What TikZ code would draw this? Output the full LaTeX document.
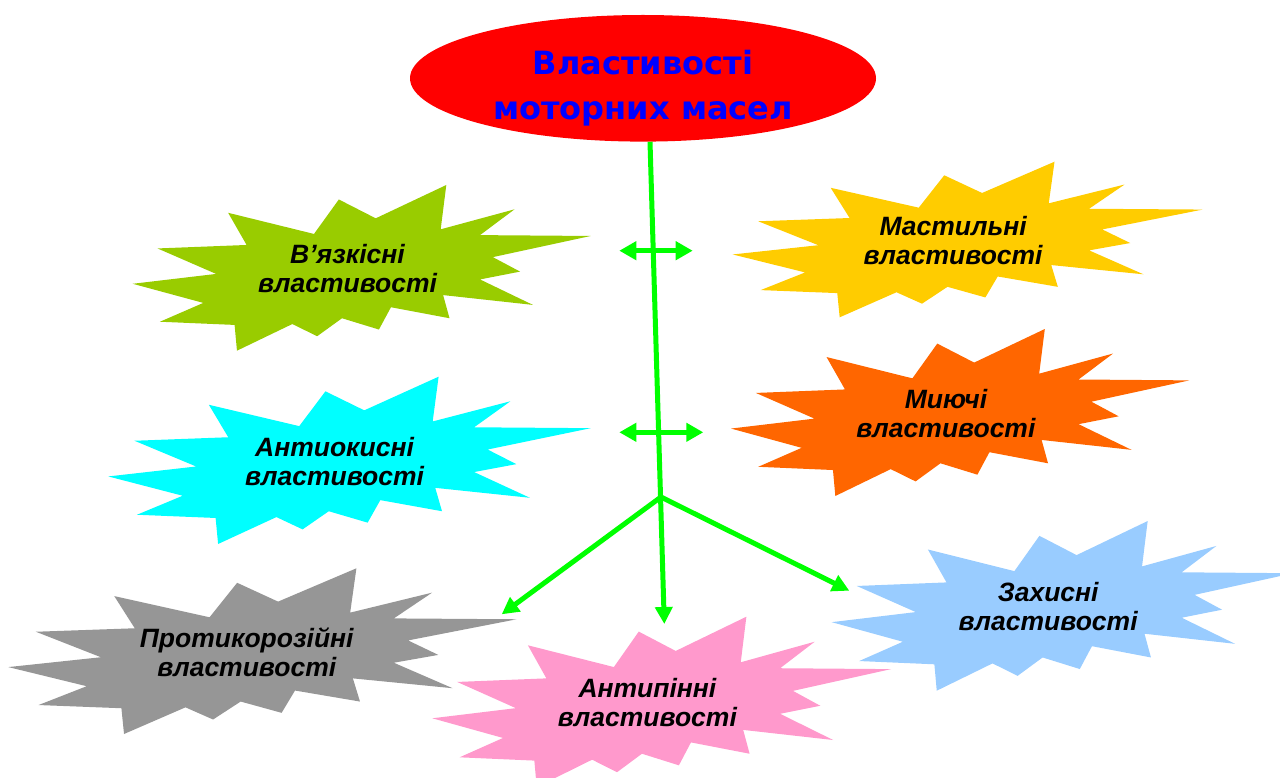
\documentclass[tikz,border=0pt]{standalone}
\usepackage{fontspec}
\setmainfont{Liberation Sans}
\newfontfamily\titlefont{DejaVu Sans}
\usepackage{tikz}
\usetikzlibrary{shapes.geometric}
\usetikzlibrary{arrows.meta}

\definecolor{grassgreen}{HTML}{99CC00}
\definecolor{sunyellow}{HTML}{FFCC00}
\definecolor{aqua}{HTML}{00FFFF}
\definecolor{deeporange}{HTML}{FF6600}
\definecolor{midgray}{HTML}{969696}
\definecolor{rosepink}{HTML}{FF99CC}
\definecolor{skyblue}{HTML}{99CCFF}
\definecolor{linkgreen}{HTML}{00FF00}
\definecolor{titlered}{HTML}{FF0000}
\definecolor{titleblue}{HTML}{0000FF}

\tikzset{burst text/.style={font=\bfseries\itshape\fontsize{26.5}{29}\selectfont,
		align=center, text=black, inner sep=0pt},
	title text/.style={font=\titlefont\bfseries\fontsize{32}{45}\selectfont,
		align=center, text=titleblue, inner sep=0pt},
	link/.style={draw=linkgreen, line width=5pt},
	tip/.style={-{Triangle[length=17pt,width=17pt]}},
	both tips/.style={{Triangle[length=17pt,width=18pt]}-{Triangle[length=17pt,width=18pt]}},
}

% explosion outline, box 216 x 216
\newcommand{\burstpath}{(114.62,43.42) -- (147.90,0) -- (145.25,57.77) -- (180.07,31.72) -- (163.80,65.32) -- (216,66.45) -- (169.85,94.02) -- (182.70,112.90) -- (163.80,123.10) -- (188.77,156.32) -- (146.40,143.50) -- (149.42,173.70) -- (121.80,159.35) -- (116.12,188.42) -- (98.72,173.70) -- (87.00,197.12) -- (75.27,181.25) -- (49.17,216) -- (48.05,182.40) -- (12.85,178.25) -- (33.30,153.70) -- (0,128.77) -- (39.35,115.92) -- (11.72,82.70) -- (53.72,78.17) -- (45.02,36.25) -- (85.50,63.82) -- (97.22,18.87) -- cycle}

% name, colour, left, top, width, height, text
\newcommand{\burst}[7]{%
	\fill[#2, shift={(#3,#4)}, xscale=#5/216, yscale=#6/216] \burstpath;
	\node[burst text] (#1) at ({#3+0.469*#5},{#4+0.505*#6}) {#7};
}

\begin{document}
\begin{tikzpicture}[x=1pt,y=-1pt]
	\useasboundingbox (0,0) rectangle (1280,778);
	
	\node[ellipse, fill=titlered, minimum width=466pt, minimum height=126.6pt, inner sep=0pt] (title) at (643,78.3) {};
	\node[title text] (titletext) at (643,88) {Властивості\\моторних масел};
	
	\burst{viscous}{grassgreen}{132.7}{185}{458}{165.7}{В’язкісні\\властивості}
	\burst{lubricating}{sunyellow}{732.7}{161.7}{470}{155.6}{Мастильні\\властивості}
	\burst{antioxid}{aqua}{108.3}{376.7}{482.4}{167.3}{Антиокисні\\властивості}
	\burst{detergent}{deeporange}{731}{329}{458.3}{167}{Миючі\\властивості}
	\burst{anticorr}{midgray}{8.3}{568.3}{508.4}{165.7}{Протикорозійні\\властивості}
	\burst{antifoam}{rosepink}{432.3}{616.7}{458.7}{170.4}{Антипінні\\властивості}
	\burst{protective}{skyblue}{831.7}{521}{461.5}{169.7}{Захисні\\властивості}
	
	\coordinate (fork) at (661,497);
	\coordinate (down end) at (664.3,624);
	\coordinate (left end) at (501.7,614.3);
	\coordinate (right end) at (849.3,590.7);
	\coordinate (upper l) at (619.3,250.7);
	\coordinate (upper r) at (692.7,250.7);
	\coordinate (lower l) at (619.3,432.3);
	\coordinate (lower r) at (703.3,432.3);
	
	\draw[link,tip] ([xshift=7pt]title.south) -- (down end);
	\draw[link,tip] (fork) -- (left end);
	\draw[link,tip] (fork) -- (right end);
	\draw[link,both tips] (upper l) -- (upper r);
	\draw[link,both tips] (lower l) -- (lower r);
	
\end{tikzpicture}
\end{document}
